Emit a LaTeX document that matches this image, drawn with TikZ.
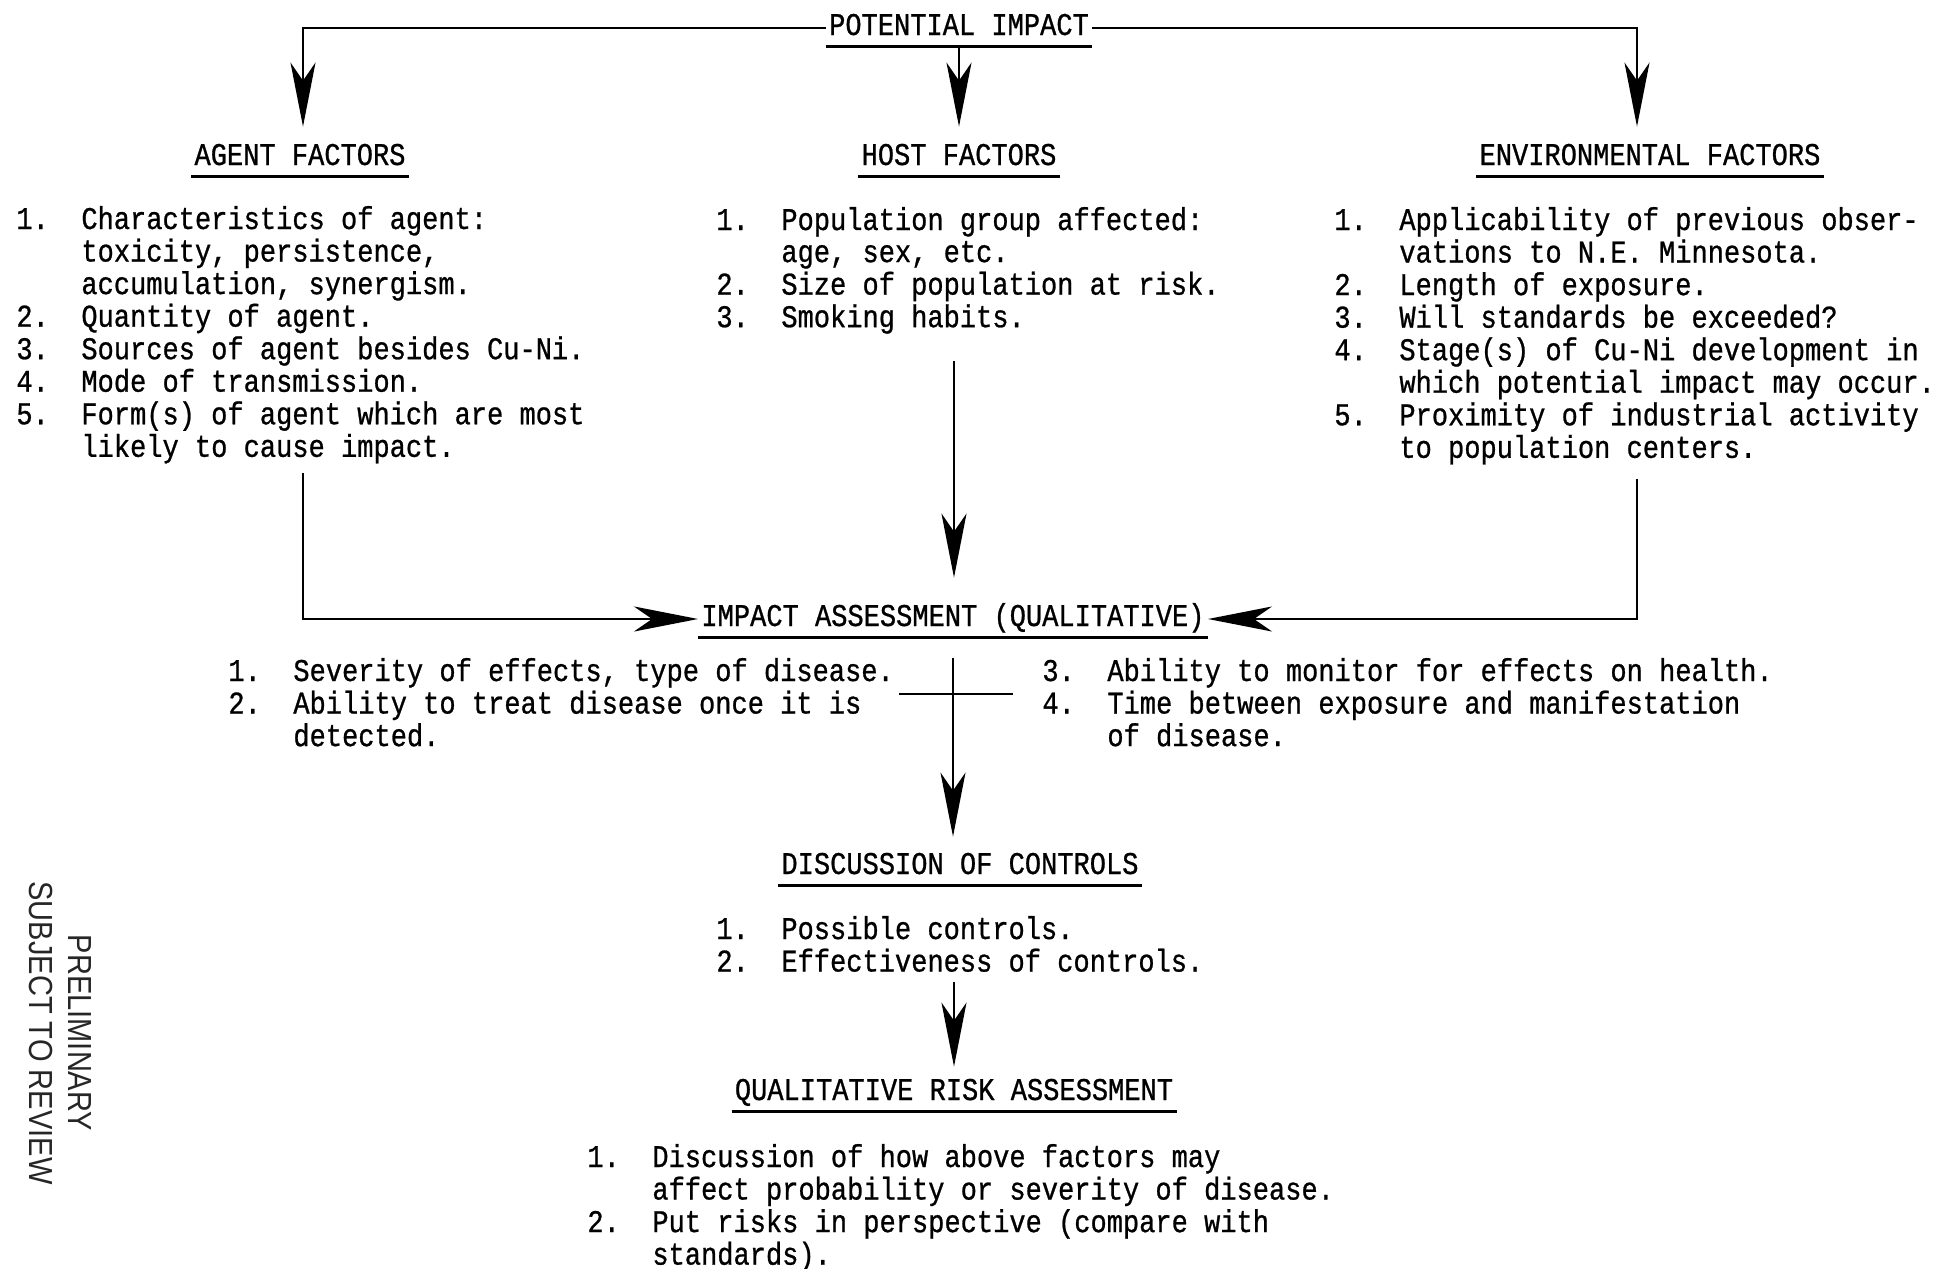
\documentclass[tikz,border=0pt]{standalone}
\usepackage{fontspec}
\setmainfont{Liberation Mono}[FakeStretch=0.855,FakeBold=0.8]
\newfontfamily\stampfont[FakeStretch=0.87]{Liberation Sans}
\usetikzlibrary{arrows.meta}

\begin{document}
\begin{tikzpicture}[x=0.1mm,y=-0.1mm,line width=0.8pt,font=\fontsize{9}{9.13}\selectfont,hd/.style={anchor=base,inner ysep=0.5mm,inner xsep=0.2mm,text height=1.9mm,text depth=0.5mm,append after command={\pgfextra{\let\hdnode=\tikzlastnode}(\hdnode.south west) edge[draw,line width=0.8pt] (\hdnode.south east)}},lst/.style={anchor=base west,inner sep=0pt},arr/.style={-{Stealth[length=6.4mm,width=2.5mm,inset=1.8mm]}}]
\useasboundingbox (0,0) rectangle (1937,1269);
\node[hd] (pot) at (959,35) {POTENTIAL IMPACT};
\node[hd] (agent) at (300,165) {AGENT FACTORS};
\node[hd] (host) at (959,165) {HOST FACTORS};
\node[hd] (env) at (1650,165) {ENVIRONMENTAL FACTORS};
\node[lst] (agentlist) at (15,229) {\begin{tabular}[t]{@{}p{6.5mm}@{}l@{}}
1. & Characteristics of agent:\\
   & toxicity, persistence,\\
   & accumulation, synergism.\\
2. & Quantity of agent.\\
3. & Sources of agent besides Cu-Ni.\\
4. & Mode of transmission.\\
5. & Form(s) of agent which are most\\
   & likely to cause impact.
\end{tabular}};
\node[lst] (hostlist) at (715,230) {\begin{tabular}[t]{@{}p{6.5mm}@{}l@{}}
1. & Population group affected:\\
   & age, sex, etc.\\
2. & Size of population at risk.\\
3. & Smoking habits.
\end{tabular}};
\node[lst] (envlist) at (1333,230) {\begin{tabular}[t]{@{}p{6.5mm}@{}l@{}}
1. & Applicability of previous obser-\\
   & vations to N.E. Minnesota.\\
2. & Length of exposure.\\
3. & Will standards be exceeded?\\
4. & Stage(s) of Cu-Ni development in\\
   & which potential impact may occur.\\
5. & Proximity of industrial activity\\
   & to population centers.
\end{tabular}};
\node[hd] (impact) at (953,626) {IMPACT ASSESSMENT (QUALITATIVE)};
\node[lst] (implistl) at (227,681) {\begin{tabular}[t]{@{}p{6.5mm}@{}l@{}}
1. & Severity of effects, type of disease.\\
2. & Ability to treat disease once it is\\
   & detected.
\end{tabular}};
\node[lst] (implistr) at (1041,681) {\begin{tabular}[t]{@{}p{6.5mm}@{}l@{}}
3. & Ability to monitor for effects on health.\\
4. & Time between exposure and manifestation\\
   & of disease.
\end{tabular}};
\node[hd] (disc) at (960,874) {DISCUSSION OF CONTROLS};
\node[lst] (disclist) at (715,939) {\begin{tabular}[t]{@{}p{6.5mm}@{}l@{}}
1. & Possible controls.\\
2. & Effectiveness of controls.
\end{tabular}};
\node[hd] (risk) at (954,1100) {QUALITATIVE RISK ASSESSMENT};
\node[lst] (risklist) at (586,1167) {\begin{tabular}[t]{@{}p{6.5mm}@{}l@{}}
1. & Discussion of how above factors may\\
   & affect probability or severity of disease.\\
2. & Put risks in perspective (compare with\\
   & standards).
\end{tabular}};
\node[rotate=-90,align=center,text=black!85,font=\stampfont\fontsize{9.5}{11.1}\selectfont] (stamp) at (60,1033) {PRELIMINARY\\SUBJECT TO REVIEW};
\coordinate (a0) at (303,473);
\coordinate (h0) at (954,361);
\coordinate (e0) at (1637,479);
\coordinate (cl) at (899,694);
\coordinate (cr) at (1013,694);
\coordinate (d0) at (954,982);
\draw[arr,shorten >=1.3mm] (pot.west) -| ([xshift=0.3mm]agent.north);
\draw[arr,shorten >=1.3mm] (pot.south) -- (host.north);
\draw[arr,shorten >=1.3mm] (pot.east) -| ([xshift=-1.3mm]env.north);
\draw[arr] (a0) |- (impact.west);
\draw[arr,shorten >=2.3mm] (h0) -- (h0 |- impact.north);
\draw[arr] (e0) |- (impact.east);
\draw[arr,shorten <=2.1mm,shorten >=1.2mm] (impact.south) -- (impact.south |- disc.north);
\draw (cl) -- (cr);
\draw[arr,shorten >=0.8mm] (d0) -- (d0 |- risk.north);
\end{tikzpicture}
\end{document}
